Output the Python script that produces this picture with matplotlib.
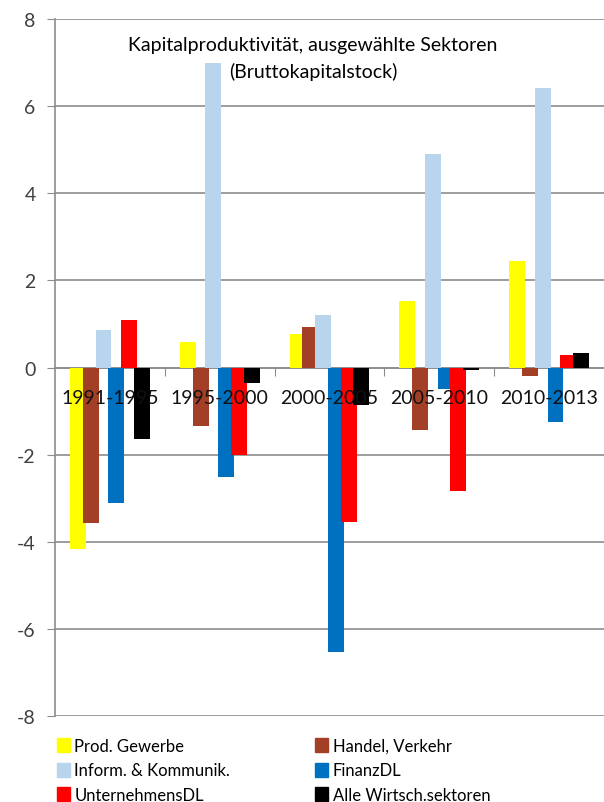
import matplotlib
matplotlib.use('Agg')
import matplotlib.pyplot as plt
from matplotlib.patches import Patch
import numpy as np

plt.rcParams['font.family'] = ['Lato', 'DejaVu Sans']
plt.rcParams['axes.unicode_minus'] = False

periods = ['1991-1995', '1995-2000', '2000-2005', '2005-2010', '2010-2013']
sectors = ['Prod. Gewerbe', 'Handel, Verkehr', 'Inform. & Kommunik.',
           'FinanzDL', 'UnternehmensDL', 'Alle Wirtsch.sektoren']
colors = ['#FFFF00', '#A23F26', '#B9D5EE', '#0070C0', '#FF0000', '#000000']

prod_gewerbe = [-4.17, 0.58, 0.77, 1.52, 2.44]
handel_verkehr = [-3.57, -1.34, 0.94, -1.43, -0.19]
inform_komm = [0.85, 7.0, 1.2, 4.9, 6.42]
finanz_dl = [-3.12, -2.51, -6.54, -0.5, -1.26]
unternehmens_dl = [1.09, -2.0, -3.54, -2.83, 0.29]
alle_sektoren = [-1.64, -0.36, -0.85, -0.05, 0.33]
series = [prod_gewerbe, handel_verkehr, inform_komm, finanz_dl, unternehmens_dl, alle_sektoren]

grid_col = '#8C8C8C'

fig = plt.figure(figsize=(6.04, 8.03), dpi=100)
ax = fig.add_axes([55/604, 1-717/803, 549/604, 697/803])

x = np.arange(len(periods))
step = 0.116
width = 0.145
for i, (vals, col) in enumerate(zip(series, colors)):
    ax.bar(x + (i - 2.5) * step, vals, width, color=col, zorder=3)

# labels sit on top of the bars, black text vanishes on the black bar
for xi, p in zip(x, periods):
    ax.text(xi, -0.68, p, ha='center', va='center', fontsize=14, color='#111111', zorder=4)

ax.set_xlim(-0.5, 4.5)
ax.set_ylim(-8, 8)
ax.set_yticks(np.arange(-8, 9, 2))
ax.tick_params(axis='y', direction='out', length=6, color=grid_col, labelsize=14,
               labelcolor='#404040', pad=8)
ax.yaxis.grid(True, color=grid_col, linewidth=1.2, zorder=0)
ax.set_axisbelow(True)

ax.spines['bottom'].set_position(('data', 0))
ax.spines['bottom'].set_color(grid_col)
ax.spines['bottom'].set_linewidth(1.2)
ax.spines['bottom'].set_zorder(2)
ax.spines['left'].set_color(grid_col)
ax.spines['left'].set_linewidth(1.2)
ax.spines['top'].set_visible(False)
ax.spines['right'].set_visible(False)
ax.set_xticks(x[:-1] + 0.5)
ax.tick_params(axis='x', direction='out', length=6, color=grid_col, labelbottom=False)

fig.text(313/604, 1-37/803, 'Kapitalproduktivität, ausgewählte Sektoren\n(Bruttokapitalstock)',
         ha='center', va='top', fontsize=14, linespacing=1.6, color='black')

# row-major order like the original legend
order = [0, 2, 4, 1, 3, 5]
handles = [Patch(facecolor=colors[k], edgecolor=colors[k]) for k in order]
labels = [sectors[k] for k in order]
fig.legend(handles, labels, ncol=2, loc='upper left', bbox_to_anchor=(57/604, 1-739/803),
           frameon=False, fontsize=12, handlelength=0.75, handleheight=0.9,
           handletextpad=0.3, columnspacing=5.1, labelspacing=0.5, borderaxespad=0,
           borderpad=0)

fig.savefig('out.png', dpi=100)
